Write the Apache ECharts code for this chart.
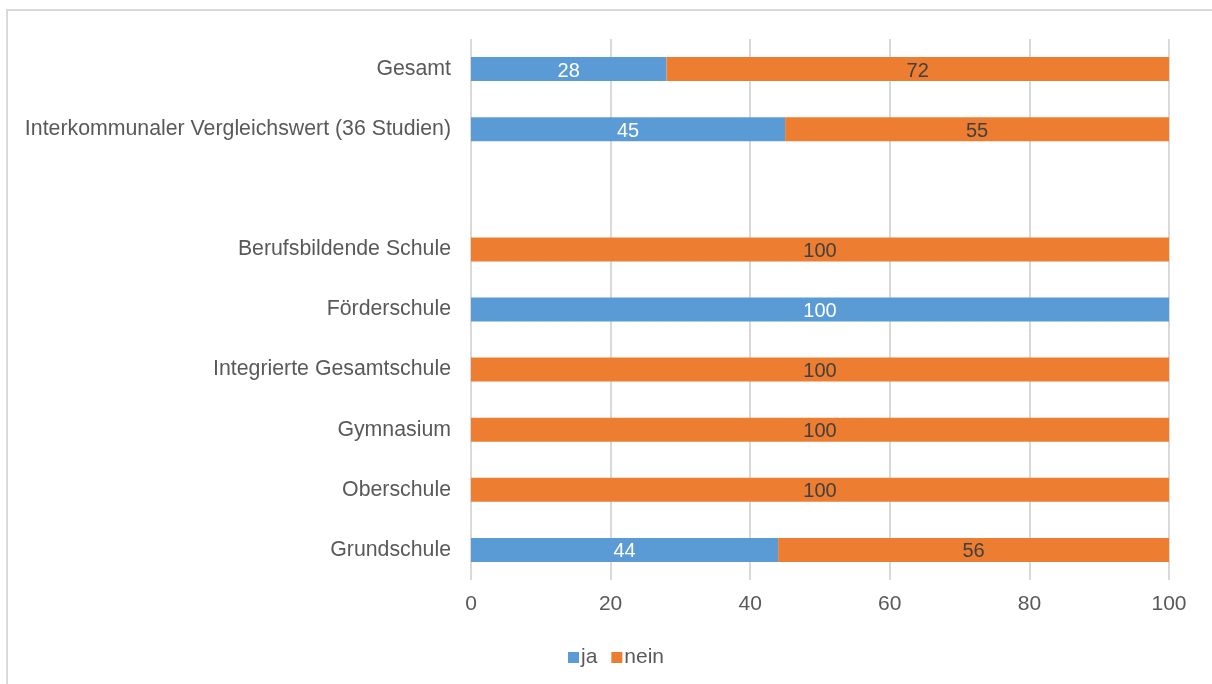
<!DOCTYPE html>
<html>
<head>
<meta charset="utf-8">
<script src="https://cdn.jsdelivr.net/npm/echarts@6/dist/echarts.min.js"></script>
<style>
  html, body { margin: 0; padding: 0; background: #fff; }
  #chart { width: 1212px; height: 684px; }
</style>
</head>
<body>
<div id="chart"></div>
<script>
// Categories listed top to bottom; the blank entry is the spacer row
const categories = [
  'Gesamt',
  'Interkommunaler Vergleichswert (36 Studien)',
  '',
  'Berufsbildende Schule',
  'Förderschule',
  'Integrierte Gesamtschule',
  'Gymnasium',
  'Oberschule',
  'Grundschule'
];
const jaValues   = [28, 45, null, null, 100, null, null, null, 44];
const neinValues = [72, 55, null, 100, null, 100, 100, 100, 56];
const xTicks = [0, 20, 40, 60, 80, 100];

const FONT = 'Liberation Sans, Arial, sans-serif';
const TEXT = '#595959';

const chart = echarts.init(document.getElementById('chart'), null, { renderer: 'canvas' });

function barLabel(color) {
  return {
    show: true,
    position: 'inside',
    offset: [0, 2],
    color: color,
    fontFamily: FONT,
    fontSize: 20,
    formatter: p => (p.value == null ? '' : String(p.value))
  };
}

chart.setOption({
  animation: false,
  backgroundColor: '#fff',
  graphic: [{
    type: 'rect',
    silent: true,
    shape: { x: 7, y: 10, width: 1300, height: 800 },
    style: { fill: 'none', stroke: '#d9d9d9', lineWidth: 2 }
  }],
  grid: { left: 471, right: 43, top: 39, bottom: 104, containLabel: false },
  legend: {
    data: ['ja', 'nein'],
    left: 563,
    top: 642,
    itemWidth: 11,
    itemHeight: 11,
    itemGap: 14,
    icon: 'rect',
    textStyle: { color: TEXT, fontFamily: FONT, fontSize: 21, padding: [0, 0, 0, -3] }
  },
  xAxis: {
    type: 'value',
    min: 0,
    max: 100,
    interval: 20,
    axisLine: { show: false },
    axisTick: { show: false },
    axisLabel: {
      color: TEXT, fontFamily: FONT, fontSize: 21, margin: 14,
      formatter: v => (xTicks.includes(v) ? String(v) : '')
    },
    splitLine: { show: true, lineStyle: { color: '#d9d9d9', width: 2 } }
  },
  yAxis: {
    type: 'category',
    inverse: true,
    data: categories,
    axisLine: { show: false },
    axisTick: { show: false },
    axisLabel: { color: TEXT, fontFamily: FONT, fontSize: 21.3, margin: 20, padding: [4, 0, 0, 0] }
  },
  series: [
    {
      name: 'ja',
      type: 'bar',
      stack: 'total',
      barWidth: 24,
      data: jaValues,
      itemStyle: { color: '#5b9bd5' },
      label: barLabel('#ffffff')
    },
    {
      name: 'nein',
      type: 'bar',
      stack: 'total',
      barWidth: 24,
      data: neinValues,
      itemStyle: { color: '#ed7d31' },
      label: barLabel('#404040')
    }
  ]
});
</script>
</body>
</html>
